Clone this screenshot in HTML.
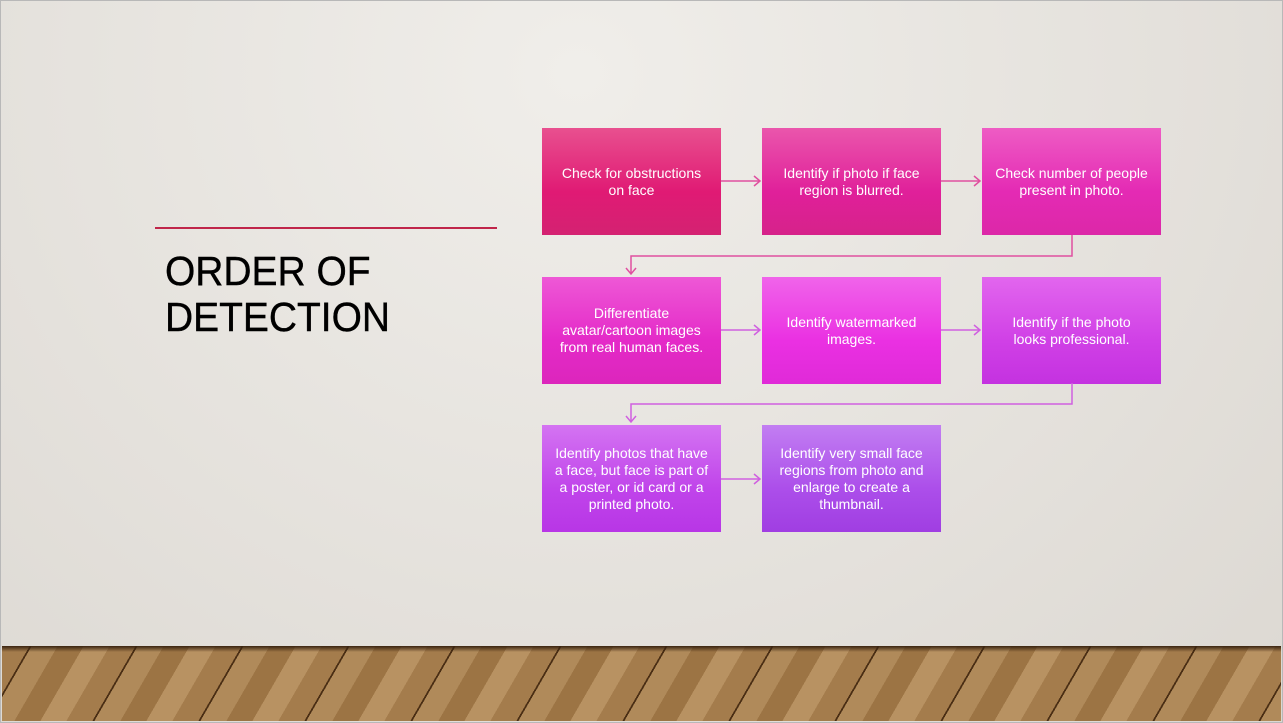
<!DOCTYPE html>
<html><head><style>
body{margin:0;width:1283px;height:723px;overflow:hidden;font-family:"Liberation Sans",sans-serif}
.bg{position:absolute;left:0;top:0;width:1283px;height:723px;background:radial-gradient(ellipse at 45% 10%,#f0eeea 0%,#e6e3de 50%,#dcd8d2 100%);box-sizing:border-box;border:1px solid #b8b8b8}
.floor{position:absolute;left:2px;top:646px;width:1279px;height:75px;overflow:hidden;background:#a07a4a}
.planks{position:absolute;left:-100px;top:0;width:1500px;height:75px;transform:skewX(-30deg);background:repeating-linear-gradient(90deg,#4a2e14 0 2px,#b08a5a 2px 28px,#9c7444 28px 54px,#b89262 54px 80px,#a47c4c 80px 106px)}
.shade{position:absolute;left:0;top:0;width:100%;height:75px;background:linear-gradient(#3a2410 0,rgba(0,0,0,0) 6px)}
.box{position:absolute;width:179px;height:107px;color:#fff;font-size:14px;line-height:17px;text-align:center;display:flex;align-items:center;justify-content:center;padding:0 13px;box-sizing:border-box}
.t{position:absolute;left:165px;top:248px;font-size:41px;line-height:46px;color:#000;letter-spacing:0;-webkit-text-stroke:0.4px #000;transform:scaleX(0.95);transform-origin:left;white-space:nowrap}
</style></head><body>
<div class="bg"></div>
<div class="floor"><div class="planks"></div><div class="shade"></div></div>
<div style="position:absolute;left:155px;top:227px;width:342px;height:2px;background:#c0264a"></div>
<div class="t">ORDER OF<br>DETECTION</div>
<div class="box" style="left:542px;top:128px;background:linear-gradient(#e8508f,#e01a74 60%,#d42272)">Check for obstructions on face</div>
<div class="box" style="left:762px;top:128px;background:linear-gradient(#ea56ac,#e0209a 60%,#d6228a)">Identify if photo if face region is blurred.</div>
<div class="box" style="left:982px;top:128px;background:linear-gradient(#ee5cc4,#e42ab4 60%,#dc28a8);padding:0 10px">Check number of people present in photo.</div>
<div class="box" style="left:542px;top:277px;background:linear-gradient(#ee58d6,#e42ac8 60%,#dc26bc);padding:0 8px">Differentiate avatar/cartoon images from real human faces.</div>
<div class="box" style="left:762px;top:277px;background:linear-gradient(#f064ea,#ea30e2 60%,#e02ad8)">Identify watermarked images.</div>
<div class="box" style="left:982px;top:277px;background:linear-gradient(#e266ee,#d040e6 60%,#c432e0);padding:0 20px">Identify if the photo looks professional.</div>
<div class="box" style="left:542px;top:425px;background:linear-gradient(#d474f2,#c044ea 60%,#b836e6);padding:0 8px">Identify photos that have a face, but face is part of a poster, or id card or a printed photo.</div>
<div class="box" style="left:762px;top:425px;background:linear-gradient(#c27ef2,#ac4eea 60%,#a03ee2);padding:0 10px">Identify very small face regions from photo and enlarge to create a thumbnail.</div>
<svg width="1283" height="723" style="position:absolute;left:0;top:0" fill="none" stroke-width="1.5">
<g stroke="#e050a0">
<path d="M721 181H760M754 176L760 181L754 186"/>
<path d="M941 181H980M974 176L980 181L974 186"/>
<path d="M1072 235V256H631V274M626 268L631 274L636 268"/>
</g>
<g stroke="#d060e0">
<path d="M721 330H760M754 325L760 330L754 335"/>
<path d="M941 330H980M974 325L980 330L974 335"/>
<path d="M1072 383V404H631V422M626 416L631 422L636 416"/>
<path d="M721 479H760M754 474L760 479L754 484"/>
</g>
</svg>
</body></html>
